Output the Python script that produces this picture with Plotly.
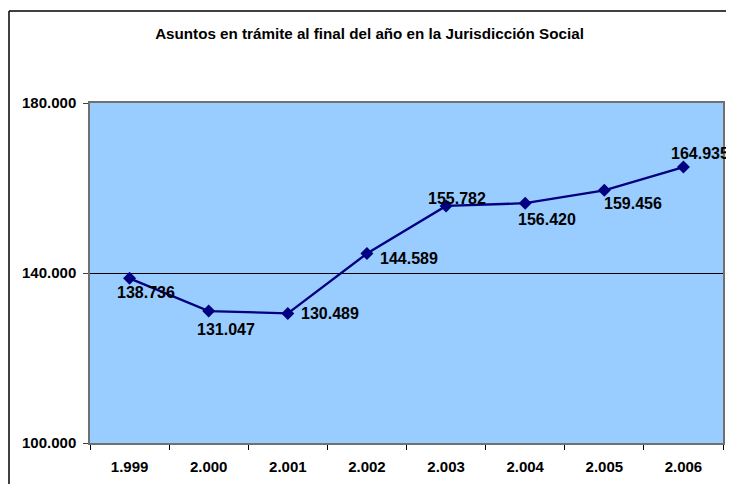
import plotly.graph_objects as go

years = ["1.999", "2.000", "2.001", "2.002", "2.003", "2.004", "2.005", "2.006"]
asuntos = [138736, 131047, 130489, 144589, 155782, 156420, 159456, 164935]
labels = ["138.736", "131.047", "130.489", "144.589", "155.782", "156.420", "159.456", "164.935"]
y_ticks = [100000, 140000, 180000]
y_tick_labels = ["100.000", "140.000", "180.000"]
title = "Asuntos en trámite al final del año en la Jurisdicción Social"

# label offsets in pixels (style only)
label_dx = [16, 17, 42, 42, 11, 22, 29, 17]
label_dy = [14, 18, 0, 5, -7, 16, 13, -14]

FONT = "Liberation Sans, Arial, sans-serif"
NAVY = "#000080"

# the page body has an 8px margin; figure sized/placed to compensate
W, H = 726, 476
L, R, T, B = 82, 11, 95, 41
PW, PH = W - L - R, H - T - B

fig = go.Figure()
fig.add_trace(go.Scatter(
    x=years, y=asuntos, mode="lines+markers",
    line=dict(color=NAVY, width=2.3),
    marker=dict(symbol="diamond", size=10, color=NAVY),
    hoverinfo="skip", showlegend=False,
))

for i, (y, t, dx, dy) in enumerate(zip(asuntos, labels, label_dx, label_dy)):
    fig.add_annotation(
        x=i, y=y, text="<b>" + t + "</b>", showarrow=False,
        xshift=dx, yshift=-dy, xanchor="center", yanchor="middle",
        font=dict(family=FONT, size=16, color="black"),
    )

# outer chart frame (top and left edges visible in the window)
fx0, fx1 = (1 - L) / PW, (W + 30 - L) / PW
fy0, fy1 = -(B + 10) / PH, (PH + T - 3) / PH
fig.add_shape(type="line", xref="paper", yref="paper", x0=fx0, x1=fx1, y0=fy1, y1=fy1,
              line=dict(color="black", width=1.5), layer="below")
fig.add_shape(type="line", xref="paper", yref="paper", x0=fx0, x1=fx0, y0=fy0, y1=fy1,
              line=dict(color="black", width=1.5), layer="below")

fig.update_layout(
    width=W, height=H,
    margin=dict(l=L, r=R, t=T, b=B, autoexpand=False),
    paper_bgcolor="white", plot_bgcolor="#99CCFF",
    title=dict(text="<b>" + title + "</b>", x=361.5 / W, xanchor="center",
               y=1 - 26 / H, yanchor="middle",
               font=dict(family=FONT, size=15.2, color="black")),
    xaxis=dict(
        type="category", range=[-0.5, 7.5], tickson="boundaries",
        tickvals=years, ticktext=["<b>" + v + "</b>" for v in years],
        ticks="outside", ticklen=5, tickcolor="black", tickwidth=1,
        showline=True, linecolor="#707070", linewidth=1.5, mirror=True,
        showgrid=False, ticklabelstandoff=9,
        tickfont=dict(family=FONT, size=15, color="black"),
    ),
    yaxis=dict(
        range=[100000, 180000], tickvals=y_ticks,
        ticktext=["<b>" + v + "</b>" for v in y_tick_labels],
        ticks="outside", ticklen=5, tickcolor="#404040", tickwidth=1,
        showline=True, linecolor="#707070", linewidth=1.5, mirror=True,
        showgrid=True, gridcolor="black", gridwidth=1, zeroline=False,
        ticklabelstandoff=4,
        tickfont=dict(family=FONT, size=15, color="black"),
    ),
)

fig.write_html("out.html")
